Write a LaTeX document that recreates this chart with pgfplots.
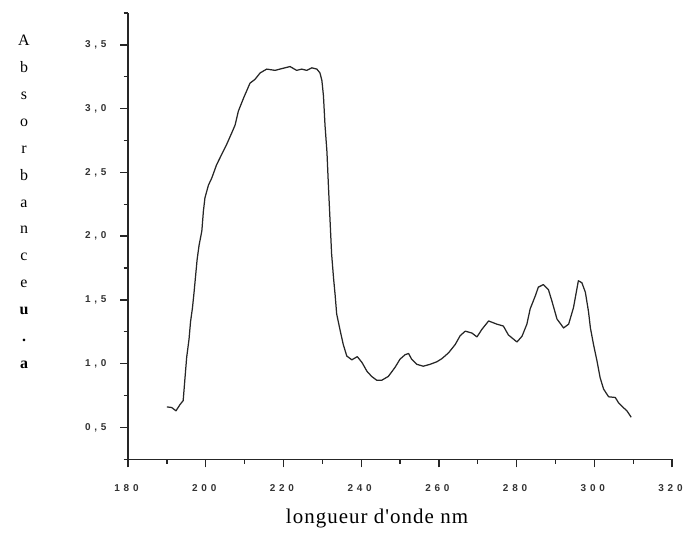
\documentclass[border=0pt]{standalone}
\usepackage{pgfplots}
\pgfplotsset{compat=1.18}
\usepackage{fontspec}
\setmainfont{Liberation Serif}
\newfontfamily\tickfont[LetterSpace=38]{Liberation Sans}
\newfontfamily\labfont[LetterSpace=5]{Liberation Serif}
\begin{document}
\begin{tikzpicture}[x=1bp,y=1bp]
\useasboundingbox (-128,-84.7) rectangle (557,459.3);
\begin{axis}[
  at={(0,0)}, anchor=south west,
  scale only axis, width=544bp, height=446.3bp,
  xmin=180, xmax=320, ymin=0.25, ymax=3.75,
  axis x line*=bottom, axis y line*=left,
  axis line style={-, line width=1.3pt, color=black!85},
  xtick={180,200,...,320},
  xticklabels={180,200,220,240,260,280,300,320},
  minor xtick={190,210,...,310},
  ytick={0.5,1,1.5,2,2.5,3,3.5},
  yticklabels={{0,5},{1,0},{1,5},{2,0},{2,5},{3,0},{3,5}},
  minor ytick={0.25,0.75,1.25,1.75,2.25,2.75,3.25,3.75},
  tick align=outside,
  major tick length=8bp, minor tick length=4.5bp,
  every tick/.style={line width=1.3pt, color=black!85},
  ticklabel style={font=\tickfont\bfseries\fontsize{10}{12}\selectfont, color=black!80},
  xticklabel style={yshift=-14bp, xshift=-1.5bp},
  yticklabel style={xshift=-10bp},
  clip=false,
]
\addplot[line width=1.25pt, color=black!85, line join=round] coordinates {
(190.0,0.661) (191.25,0.656) (192.35,0.63) (193.4,0.68) (194.2,0.71)
(194.7,0.90) (195.1,1.05) (195.7,1.19) (196.1,1.33) (196.6,1.44)
(197.0,1.56) (197.4,1.69) (197.8,1.82) (198.3,1.93) (199.0,2.04)
(199.4,2.195) (199.8,2.30) (200.7,2.40) (201.55,2.455) (202.8,2.56)
(204.1,2.64) (205.4,2.72) (206.7,2.81) (207.55,2.87) (208.4,2.98)
(209.7,3.08) (211.4,3.20) (212.7,3.23) (214.0,3.28) (215.7,3.31)
(217.85,3.30) (219.1,3.31) (221.7,3.33) (223.4,3.30) (224.7,3.31)
(226.0,3.30) (227.3,3.32) (228.6,3.31) (229.4,3.28) (229.9,3.22)
(230.3,3.10) (230.7,2.87) (231.2,2.66) (231.6,2.38) (232.0,2.12)
(232.4,1.86) (232.9,1.67) (233.3,1.54) (233.7,1.39) (234.6,1.26)
(235.4,1.15) (236.3,1.06) (237.6,1.03) (239.0,1.055) (240.2,1.01)
(241.5,0.94) (242.7,0.90) (244.0,0.87) (245.3,0.87) (247.0,0.90)
(248.7,0.97) (250.0,1.035) (251.3,1.07) (252.2,1.08) (253.0,1.035)
(254.3,0.995) (256.0,0.98) (257.75,0.995) (259.5,1.015) (260.8,1.04)
(262.5,1.085) (264.2,1.15) (265.5,1.22) (266.8,1.255) (268.5,1.24)
(269.8,1.21) (271.1,1.27) (272.8,1.335) (274.9,1.31) (276.6,1.295)
(277.9,1.225) (280.1,1.17) (281.4,1.215) (282.65,1.31) (283.5,1.43)
(284.8,1.53) (285.6,1.60) (286.9,1.62) (288.2,1.58) (289.1,1.49)
(290.4,1.35) (292.1,1.28) (293.4,1.31) (294.65,1.44) (295.9,1.65)
(296.8,1.635) (297.7,1.56) (298.5,1.41) (299.0,1.28) (299.8,1.15)
(300.7,1.02) (301.5,0.89) (302.4,0.80) (303.7,0.74) (305.4,0.735)
(306.2,0.695) (307.5,0.655) (308.4,0.63) (309.5,0.58)
};
\end{axis}
\foreach \l [count=\i from 0] in {A,b,s,o,r,b,a,n,c,e,\textbf{u},\textbf{.},\textbf{a}}
  \node[anchor=base, inner sep=0pt, font=\fontsize{16}{18}\selectfont] at (-104, 413.6-26.9*\i) {\l};
\node[anchor=base, inner sep=0pt, font=\labfont\fontsize{21}{24}\selectfont] at (249, -64) {longueur d'onde nm};
\end{tikzpicture}
\end{document}
